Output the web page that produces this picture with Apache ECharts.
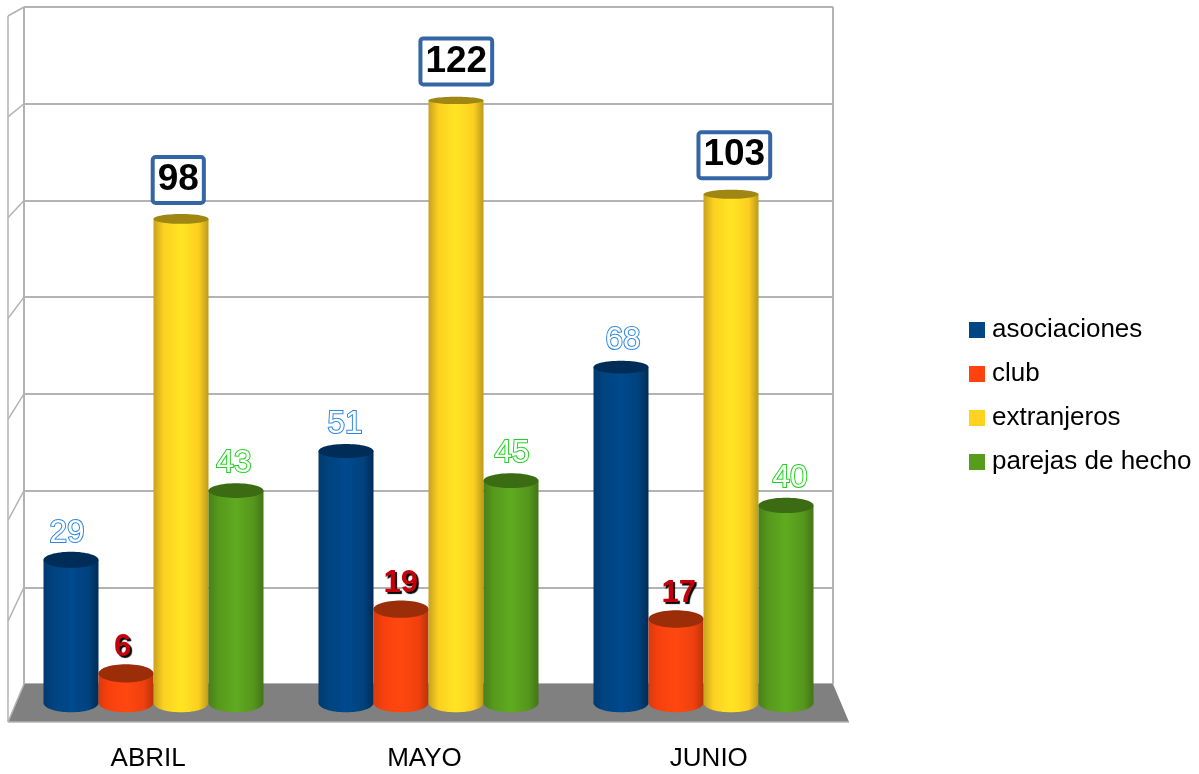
<!DOCTYPE html>
<html>
<head>
<meta charset="utf-8">
<style>
html,body{margin:0;padding:0;background:#fff;}
#chart{width:1199px;height:774px;}
</style>
<script src="https://cdn.jsdelivr.net/npm/echarts@6/dist/echarts.min.js"></script>
</head>
<body>
<div id="chart"></div>
<script>
const categories = ["ABRIL", "MAYO", "JUNIO"];
const seriesNames = ["asociaciones", "club", "extranjeros", "parejas de hecho"];
const asociaciones = [29, 51, 68];
const club = [6, 19, 17];
const extranjeros = [98, 122, 103];
const parejas = [43, 45, 40];
const yTicks = [0, 20, 40, 60, 80, 100, 120, 140];

const seriesValues = [asociaciones, club, extranjeros, parejas];
const legendColors = ["#004586", "#ff420e", "#ffd320", "#579d1c"];
const capColors = ["#002d57", "#9c2d09", "#a08714", "#3b6b13"];
const bodyStops = [
    ["#003a70", "#00437f", "#00498e", "#00427d", "#002c56"],
    ["#d93a0c", "#f8400e", "#ff4810", "#f0400e", "#b9340a"],
    ["#c8a21c", "#fcd021", "#ffe523", "#fccf21", "#bc9a1b"],
    ["#48801a", "#56991c", "#5fab20", "#55961c", "#437518"]
];
const gridColor = "#b3b3b3";

// the plot is a box in perspective: back wall, bars in the middle, front edge
const back = {left: 24, right: 366, top: 7, bottom: 90};
const mid = {left: 16, right: 358, top: 11.5, bottom: 71};
const front = {left: 8, right: 350, top: 16, bottom: 52};

const labelStyles = [
    {fill: "#fff", stroke: "#2f86e0", lineWidth: 2, font: "31.5px 'Liberation Sans'", dy: 26.5},
    {fill: "#c5000b", textShadowColor: "#000", textShadowOffsetX: 2, textShadowOffsetY: 2, textShadowBlur: 1, font: "bold 31px 'Liberation Sans'", dy: 26},
    {fill: "#000", font: "bold 37px 'Liberation Sans'", lineHeight: 33, backgroundColor: "#fff", borderColor: "#3465a4", borderWidth: 4, borderRadius: 1, padding: [9, 3, 0, 3], dy: 39},
    {fill: "#fff", stroke: "#22d022", lineWidth: 2, font: "31.5px 'Liberation Sans'", dy: 27}
];

function cylinder(s) {
    return function (params, api) {
        const i = api.value(0);
        const v = api.value(1);
        const base = api.coord([i, 0]);
        const top = api.coord([i, v]);
        const bw = api.size([1, 0])[0] / 5;
        const cx = base[0] + (s - 1.5) * bw;
        // caps get flatter the higher they are
        const ryBase = 9.3;
        const ryTop = 9.5 * (1 - v / 200);
        const c = bodyStops[s];
        const fill = new echarts.graphic.LinearGradient(0, 0, 1, 0, [
            {offset: 0, color: c[0]},
            {offset: 0.18, color: c[1]},
            {offset: 0.5, color: c[2]},
            {offset: 0.82, color: c[3]},
            {offset: 1, color: c[4]}
        ]);
        const ls = labelStyles[s];
        // labels sit a bit nearer to the viewer, so they spread out slightly
        const plotMid = (mid.left + 1199 - mid.right) / 2;
        return {
            type: "group",
            children: [
                {type: "ellipse", shape: {cx: cx, cy: base[1], rx: bw / 2, ry: ryBase}, style: {fill: fill}},
                {type: "rect", shape: {x: cx - bw / 2, y: top[1], width: bw, height: base[1] - top[1]}, style: {fill: fill}},
                {type: "ellipse", shape: {cx: cx, cy: top[1], rx: bw / 2, ry: ryTop}, style: {fill: capColors[s]}},
                {
                    type: "text",
                    style: Object.assign({}, ls, {
                        text: String(v),
                        x: cx + (cx - plotMid) * 0.011,
                        y: top[1] - ls.dy,
                        align: "center",
                        verticalAlign: "middle"
                    })
                }
            ]
        };
    };
}

function renderBox(params, api) {
    const v = api.value(1);
    const y = api.coord([0, v])[1];
    const backY = back.top + (1 - v / 140) * (774 - back.bottom - back.top);
    return {
        type: "line",
        shape: {x1: back.left, y1: backY, x2: front.left, y2: y},
        style: {stroke: gridColor, lineWidth: 1.5}
    };
}

function renderFloor() {
    const backY = 774 - back.bottom;
    const frontY = 774 - front.bottom;
    return {
        type: "group",
        children: [
            {
                type: "polygon",
                shape: {points: [[back.left, backY], [1199 - back.right, backY], [1199 - front.right, frontY], [front.left, frontY]]},
                style: {fill: "#808080"}
            },
            {type: "line", shape: {x1: front.left, y1: frontY, x2: 1199 - front.right, y2: frontY}, style: {stroke: gridColor, lineWidth: 1.5}},
            {type: "line", shape: {x1: front.left, y1: front.top, x2: front.left, y2: frontY}, style: {stroke: gridColor, lineWidth: 1.5}}
        ]
    };
}

const valueAxis = function (gridIndex, show) {
    return {
        type: "value",
        gridIndex: gridIndex,
        min: 0,
        max: 140,
        interval: 20,
        axisLine: {show: false},
        axisTick: {show: false},
        axisLabel: {show: false},
        splitLine: {show: show, lineStyle: {color: gridColor, width: 2}}
    };
};

const series = [
    {
        type: "custom",
        xAxisIndex: 2,
        yAxisIndex: 2,
        clip: false,
        silent: true,
        z: 1,
        data: [[0, 0]],
        renderItem: renderFloor
    },
    {
        type: "custom",
        xAxisIndex: 2,
        yAxisIndex: 2,
        clip: false,
        silent: true,
        z: 1,
        data: yTicks.map(function (t) { return [0, t]; }),
        renderItem: renderBox
    }
];
seriesNames.forEach(function (name, s) {
    series.push({
        name: name,
        type: "custom",
        xAxisIndex: 1,
        yAxisIndex: 1,
        clip: false,
        silent: true,
        z: 2 + s,
        itemStyle: {color: legendColors[s]},
        data: seriesValues[s].map(function (v, i) { return [i, v]; }),
        renderItem: cylinder(s)
    });
});

const chart = echarts.init(document.getElementById("chart"));
chart.setOption({
    animation: false,
    backgroundColor: "#fff",
    grid: [back, mid, front],
    xAxis: [
        {
            type: "value",
            gridIndex: 0,
            min: 0,
            max: 1,
            interval: 1,
            axisLine: {show: false},
            axisTick: {show: false},
            axisLabel: {show: false},
            splitLine: {show: true, lineStyle: {color: gridColor, width: 2}}
        },
        {
            type: "category",
            gridIndex: 1,
            data: categories,
            axisLine: {show: false},
            axisTick: {show: false},
            axisLabel: {show: false}
        },
        {
            type: "category",
            gridIndex: 2,
            data: categories,
            axisLine: {show: false},
            axisTick: {show: false},
            axisLabel: {
                color: "#000",
                fontFamily: "Liberation Sans",
                fontSize: 26,
                margin: 24,
                // MAYO sits a little left of its slot in the original
                formatter: function (value, index) {
                    return index === 1 ? "{left|" + value + "}" : value;
                },
                rich: {
                    left: {color: "#000", fontFamily: "Liberation Sans", fontSize: 26, padding: [0, 8, 0, 0]}
                }
            }
        }
    ],
    yAxis: [valueAxis(0, true), valueAxis(1, false), valueAxis(2, false)],
    legend: {
        data: seriesNames,
        orient: "vertical",
        left: 969,
        top: 317,
        padding: 0,
        itemWidth: 16,
        itemHeight: 16,
        itemGap: 18,
        icon: "rect",
        selectedMode: false,
        textStyle: {color: "#000", fontFamily: "Liberation Sans", fontSize: 26, padding: [0, 0, 0, 2]}
    },
    series: series
});
</script>
</body>
</html>
